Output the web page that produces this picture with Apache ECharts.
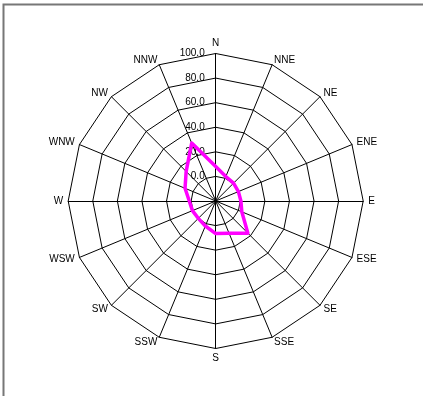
<!DOCTYPE html>
<html>
<head>
<meta charset="utf-8">
<script src="https://cdn.jsdelivr.net/npm/echarts@6/dist/echarts.min.js"></script>
<style>
  html, body { margin: 0; padding: 0; background: #fff; }
  #chart { width: 423px; height: 396px; }
</style>
</head>
<body>
<div id="chart"></div>
<script>
// Compass directions, clockwise from north
const directions = ['N', 'NNE', 'NE', 'ENE', 'E', 'ESE', 'SE', 'SSE',
                    'S', 'SSW', 'SW', 'WSW', 'W', 'WNW', 'NW', 'NNW'];
// Frequency per direction
const frequency = [8, 1.5, 0.5, 0, 0.5, 3, 17, 8.5,
                   6.5, 2, 0, 0.5, 1.5, 7, 14, 31];
// Radial scale
const radialMin = -20;
const radialMax = 100;
const radialSplits = 6;

// ECharts lays radar indicators out counter-clockwise, so walk the
// compass backwards after north to get a clockwise rose.
const order = [0];
for (let i = directions.length - 1; i >= 1; i--) order.push(i);

const indicators = order.map((idx, k) => ({
  name: directions[idx],
  min: radialMin,
  max: radialMax,
  axisLabel: { show: k === 0 }
}));
const values = order.map(idx => frequency[idx]);

const chart = echarts.init(document.getElementById('chart'));
chart.setOption({
  animation: false,
  backgroundColor: '#fff',
  graphic: [{
    type: 'rect',
    shape: { x: 3.5, y: 4.5, width: 600, height: 600 },
    style: { fill: 'none', stroke: '#777', lineWidth: 2 },
    silent: true
  }],
  radar: {
    center: [215.7, 201],
    radius: 147.5,
    startAngle: 90,
    shape: 'polygon',
    splitNumber: radialSplits,
    nameGap: 5,
    axisName: {
      color: '#000',
      fontSize: 10,
      fontFamily: 'Liberation Sans, Arial, sans-serif'
    },
    axisLine: { lineStyle: { color: '#000', width: 1 } },
    splitLine: { lineStyle: { color: '#000', width: 1 } },
    splitArea: { show: false },
    axisTick: { show: false },
    axisLabel: {
      show: true,
      color: '#000',
      fontSize: 10,
      margin: 11,
      fontFamily: 'Liberation Sans, Arial, sans-serif',
      formatter: v => (v < 0 ? '' : Number(v).toFixed(1))
    },
    indicator: indicators
  },
  series: [{
    type: 'radar',
    symbol: 'none',
    lineStyle: { color: '#ff00ff', width: 3.5 },
    data: [{ value: values }]
  }]
});
</script>
</body>
</html>
